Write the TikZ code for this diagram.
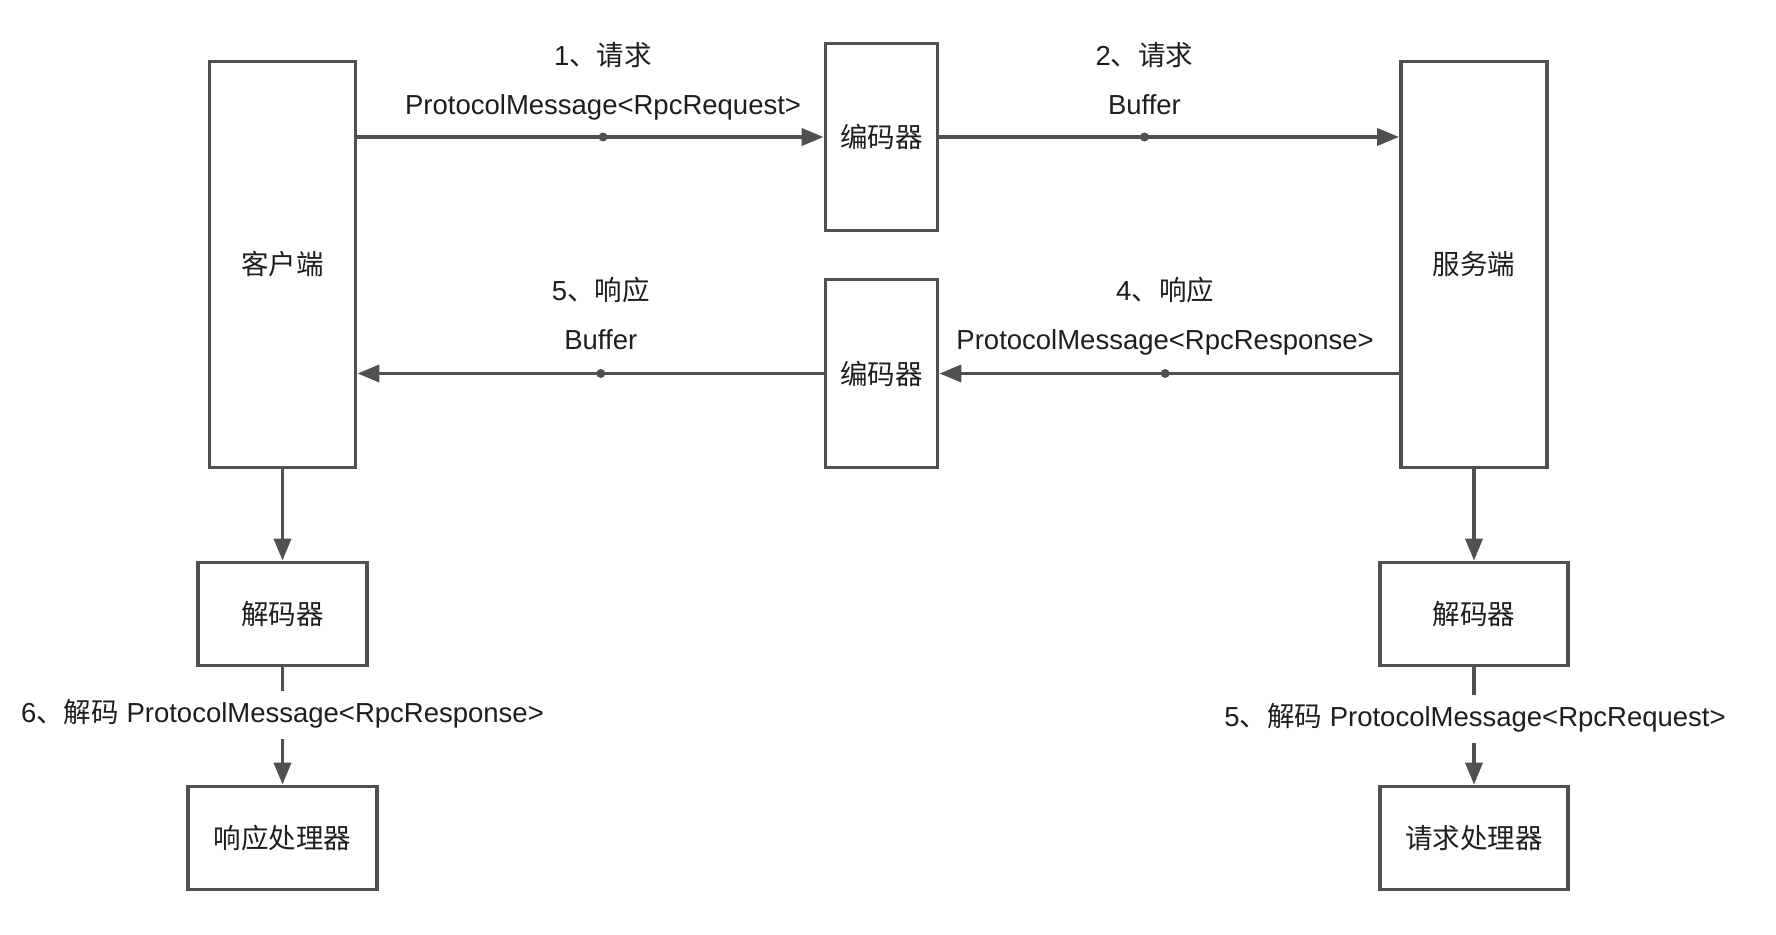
\documentclass[tikz,border=0pt]{standalone}
\usepackage{fontspec}
\setmainfont{Liberation Sans}
\newfontfamily\zhfont{Noto Sans CJK SC}
\newcommand{\zh}[1]{{\zhfont #1}}
\usetikzlibrary{arrows.meta}
\definecolor{ln}{RGB}{80,80,80}
\definecolor{tx}{RGB}{30,30,30}
\begin{document}
\begin{tikzpicture}[x=1pt,y=-1pt,
  box/.style={draw=ln,line width=3.8pt,inner sep=0pt,fill=white,
    font=\fontsize{27.5}{32}\selectfont,text=tx},
  conn/.style={draw=ln,line width=3.8pt,-{Triangle[length=22pt,width=17pt]}},
  plainline/.style={draw=ln,line width=3.8pt},
  dotn/.style={circle,fill=ln,inner sep=0pt,minimum size=9pt},
  lbl/.style={font=\fontsize{27.5}{32}\selectfont,text=tx,inner xsep=0pt,inner ysep=0pt,
    text height=20pt,text depth=6pt},
  vlbl/.style={lbl,inner ysep=11pt},
]
\useasboundingbox[fill=white] (0,0) rectangle (1776,934);

% main boxes
\node[box,minimum width=146pt,minimum height=406pt] (client) at (282.5,264.5) {\zh{客户端}};
\node[box,minimum width=112pt,minimum height=187pt] (enc1) at (881.5,137) {\zh{编码器}};
\node[box,minimum width=112pt,minimum height=188pt] (enc2) at (881.5,373.5) {\zh{编码器}};
\node[box,minimum width=146pt,minimum height=406pt] (server) at (1474,264.5) {\zh{服务端}};
\node[box,minimum width=169pt,minimum height=103pt] (decL) at (282.5,614) {\zh{解码器}};
\node[box,minimum width=189pt,minimum height=103pt] (resp) at (282.5,838) {\zh{响应处理器}};
\node[box,minimum width=188pt,minimum height=103pt] (decR) at (1474,614) {\zh{解码器}};
\node[box,minimum width=188pt,minimum height=103pt] (req) at (1474,838) {\zh{请求处理器}};

% horizontal connectors
\draw[conn] (client.east |- enc1) -- node[dotn,pos=0.527] (d1) {} (enc1.west);
\draw[conn] (enc1.east) -- node[dotn,pos=0.446] (d2) {} (server.west |- enc1);
\draw[conn] (server.west |- enc2) -- node[dotn,pos=0.509] (d4) {} (enc2.east);
\draw[conn] (enc2.west) -- node[dotn,pos=0.478] (d5) {} (client.east |- enc2);

% labels of horizontal connectors
\node[lbl] (t1a) at ([yshift=79pt]d1) {1\zh{、请求}};
\node[lbl] (t1b) at ([yshift=30pt]d1) {ProtocolMessage<RpcRequest>};
\node[lbl] (t2a) at ([yshift=79pt]d2) {2\zh{、请求}};
\node[lbl] (t2b) at ([yshift=30pt]d2) {Buffer};
\node[lbl] (t4a) at ([yshift=80pt]d4) {4\zh{、响应}};
\node[lbl] (t4b) at ([yshift=31pt]d4) {ProtocolMessage<RpcResponse>};
\node[lbl] (t5a) at ([yshift=80pt]d5) {5\zh{、响应}};
\node[lbl] (t5b) at ([yshift=31pt]d5) {Buffer};

% vertical connectors
\draw[conn] (client.south) -- (decL.north);
\draw[conn] (server.south) -- (decR.north);
\node[vlbl] (l6) at (282.5,715) {6\zh{、解码} ProtocolMessage<RpcResponse>};
\node[vlbl] (l5) at (1475,719) {5\zh{、解码} ProtocolMessage<RpcRequest>};
\draw[plainline] (decL.south) -- (decL.south |- l6.north);
\draw[conn] (resp.north |- l6.south) -- (resp.north);
\draw[plainline] (decR.south) -- (decR.south |- l5.north);
\draw[conn] (req.north |- l5.south) -- (req.north);
\end{tikzpicture}
\end{document}
